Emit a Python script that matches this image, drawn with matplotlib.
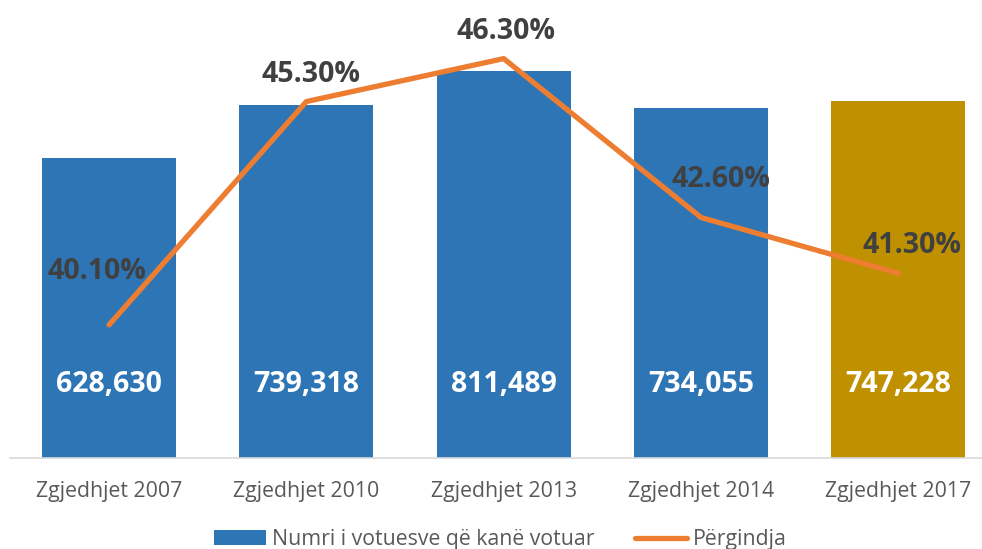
import matplotlib
matplotlib.use("Agg")
import matplotlib.pyplot as plt
from matplotlib.patches import Patch
from matplotlib.lines import Line2D

categories = ["Zgjedhjet 2007", "Zgjedhjet 2010", "Zgjedhjet 2013", "Zgjedhjet 2014", "Zgjedhjet 2017"]
voters = [628630, 739318, 811489, 734055, 747228]
percent = [40.1, 45.3, 46.3, 42.6, 41.3]
voter_labels = ["628,630", "739,318", "811,489", "734,055", "747,228"]
percent_labels = ["40.10%", "45.30%", "46.30%", "42.60%", "41.30%"]
bar_legend = "Numri i votuesve që kanë votuar"
line_legend = "Përgindja"

# layout/style (not data)
bar_colors = ["#2E75B6", "#2E75B6", "#2E75B6", "#2E75B6", "#BF9000"]
pct_offsets = [(-8.5, 38.5), (3, 19.5), (1.5, 19.5), (14, 27), (10, 20)]  # points

plt.rcParams['font.family'] = ['Open Sans', 'DejaVu Sans']

fig = plt.figure(figsize=(9.82, 5.49), dpi=100)
ax = fig.add_axes([0.0106, 0.1658, 1.0047, 0.7822])
x = list(range(len(categories)))
ax.bar(x, voters, width=0.68, color=bar_colors, zorder=2)
ax.set_xlim(-0.5, len(categories) - 0.5)
ax.set_ylim(0, 900000)
for s in ["top", "right", "left"]:
    ax.spines[s].set_visible(False)
ax.spines["bottom"].set_color("#D9D9D9")
ax.spines["bottom"].set_linewidth(1.2)
ax.set_yticks([])
ax.set_xticks(x)
ax.set_xticklabels(categories, fontsize=15.3, color="#595959")
ax.tick_params(axis="x", length=0, pad=16.4)

for xi, v, lab in zip(x, voters, voter_labels):
    ax.text(xi, 0.17 * 900000, lab, ha="center", va="center", color="white",
            fontsize=20.5, fontweight="bold", zorder=5)

ax2 = ax.twinx()
ax2.set_ylim(37, 47)
ax2.set_yticks([])
for s in ["top", "right", "left", "bottom"]:
    ax2.spines[s].set_visible(False)
ax2.plot(x, percent, color="#ED7D31", linewidth=3.8, solid_capstyle="round",
         solid_joinstyle="round", zorder=3)
for xi, p, lab, off in zip(x, percent, percent_labels, pct_offsets):
    ax2.annotate(lab, (xi, p), xytext=off, textcoords="offset points",
                 ha="center", va="center", color="#404040", fontsize=20.5,
                 fontweight="bold")

handles = [Patch(facecolor="#2E75B6"), Line2D([0], [0], color="#ED7D31", linewidth=3.8, solid_capstyle="round")]
fig.legend(handles, [bar_legend, line_legend], loc="center", bbox_to_anchor=(0.51, 0.017),
           ncol=2, frameon=False, fontsize=15.3, labelcolor="#595959",
           handlelength=2.45, handletextpad=0.28, columnspacing=1.9)

fig.savefig("out.png", dpi=100)
